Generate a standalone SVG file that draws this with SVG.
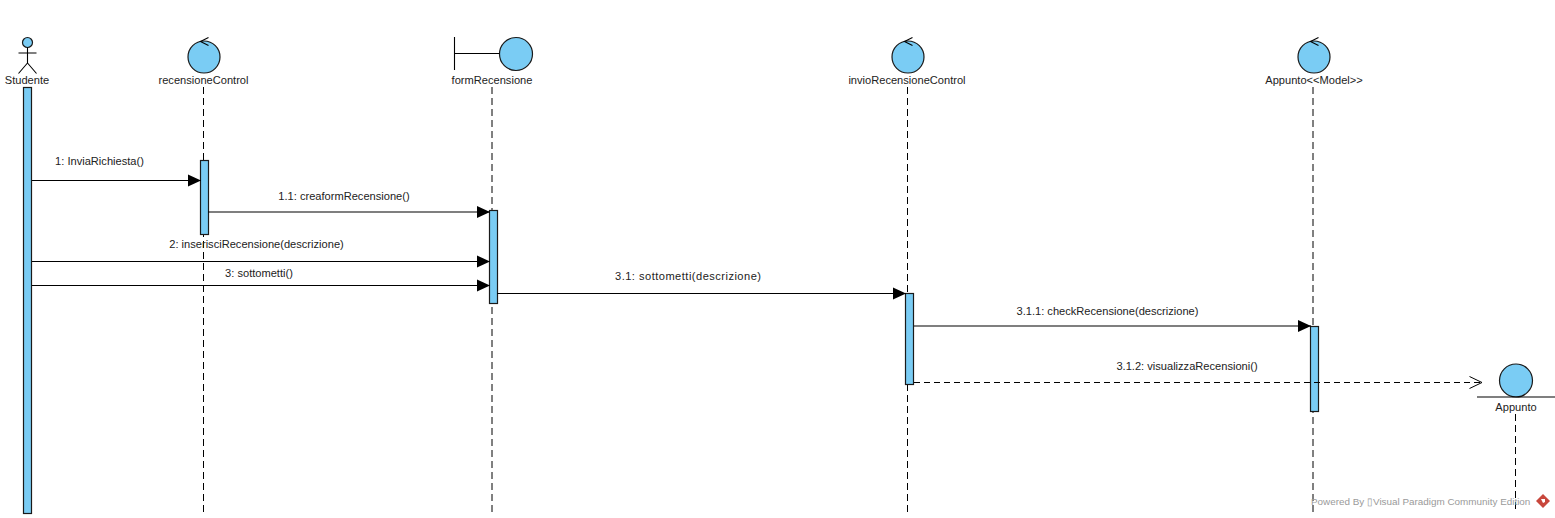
<svg xmlns="http://www.w3.org/2000/svg" width="1555" height="518" viewBox="0 0 1555 518">
<defs>
<marker id="solid" markerUnits="userSpaceOnUse" markerWidth="14" markerHeight="14" refX="13" refY="7" orient="auto"><path d="M0 1L13 7L0 13Z" fill="#000"/></marker>
<marker id="open" markerUnits="userSpaceOnUse" markerWidth="15" markerHeight="15" refX="13" refY="7" orient="auto"><path d="M0.500 1L13 7L0.500 13" fill="none" stroke="#000" stroke-width="1"/></marker>
</defs>
<style>
text{font-family:"Liberation Sans",Arial,sans-serif;font-size:11.100px;fill:#222;text-anchor:middle}
.shape{fill:#7accf4;stroke:#1a1a1a;stroke-width:1.2}
.line{fill:none;stroke:#000;stroke-width:1.1}
.life{fill:none;stroke:#000;stroke-width:1;stroke-dasharray:7 4}
.msg{fill:none;stroke:#000;stroke-width:1.1;marker-end:url(#solid)}
.ret{fill:none;stroke:#000;stroke-width:1;stroke-dasharray:6 4;marker-end:url(#open)}
.wm{font-size:9.900px;fill:#9a9a9a;text-anchor:start}
</style>
<rect width="1555" height="518" fill="#fff"/>
<g id="lifelines">
<path class="life" d="M203.500 87V513"/>
<path class="life" d="M492 87V513"/>
<path class="life" d="M907.500 87V513"/>
<path class="life" d="M1313 87V513"/>
<path class="life" d="M1515.500 414V513"/>
</g>
<g id="node-studente">
<circle class="shape" cx="27.500" cy="42.500" r="5"/>
<path class="line" d="M27.500 47.500V63M18.500 53H36.500M18.500 73.500L27.500 63L36.500 73.500"/>
<text x="27" y="84">Studente</text>
<rect class="shape" x="23.500" y="87.500" width="8" height="426"/>
</g>
<g id="node-recensioneControl">
<circle class="shape" cx="204" cy="57" r="16"/>
<path class="line" d="M208.500 37.500L200.500 41.500L208.500 45.500"/>
<text x="203.500" y="84">recensioneControl</text>
<rect class="shape" x="200.500" y="160.500" width="8" height="74"/>
</g>
<g id="node-formRecensione">
<circle class="shape" cx="516" cy="54" r="16.500"/>
<path class="line" d="M454.500 37V70M454.500 53.500H499.500"/>
<text x="492" y="84">formRecensione</text>
<rect class="shape" x="489.500" y="210.500" width="8" height="93"/>
</g>
<g id="node-invioRecensioneControl">
<circle class="shape" cx="908" cy="57" r="16"/>
<path class="line" d="M912.500 37.500L904.500 41.500L912.500 45.500"/>
<text x="907" y="84">invioRecensioneControl</text>
<rect class="shape" x="905.500" y="293.500" width="8" height="91"/>
</g>
<g id="node-appuntoModel">
<circle class="shape" cx="1314" cy="57" r="16"/>
<path class="line" d="M1318.500 37.500L1310.500 41.500L1318.500 45.500"/>
<text x="1314" y="84">Appunto&lt;&lt;Model&gt;&gt;</text>
<rect class="shape" x="1310.500" y="326.500" width="8" height="85"/>
</g>
<g id="node-appunto">
<circle class="shape" cx="1516" cy="380.500" r="16.500"/>
<path class="line" d="M1477 397H1555"/>
<text x="1516" y="411">Appunto</text>
</g>
<g id="connectors">
<path class="msg" d="M32 180.500H201"/>
<path class="msg" d="M208 212H490"/>
<path class="msg" d="M32 261.500H490"/>
<path class="msg" d="M32 285.500H490"/>
<path class="msg" d="M497 293.500H906"/>
<path class="msg" d="M914 326H1311"/>
<path class="ret" d="M914 382.500H1482"/>
</g>
<g id="labels">
<text x="99.500" y="165">1: InviaRichiesta()</text>
<text x="344" y="200">1.1: creaformRecensione()</text>
<text x="256.500" y="248">2: inserisciRecensione(descrizione)</text>
<text x="259" y="277">3: sottometti()</text>
<text x="688" y="280" textLength="146" lengthAdjust="spacing">3.1: sottometti(descrizione)</text>
<text x="1107.500" y="315">3.1.1: checkRecensione(descrizione)</text>
<text x="1187" y="370">3.1.2: visualizzaRecensioni()</text>
</g>
<g id="watermark">
<text class="wm" x="1311" y="505">Powered By ▯Visual Paradigm Community Edition</text>
<path d="M1543 494L1550 501L1543 508L1536 501Z" fill="#c8473c"/>
<path d="M1541 499L1545 499L1545 502L1543 503Z" fill="#fff"/>
</g>
</svg>
